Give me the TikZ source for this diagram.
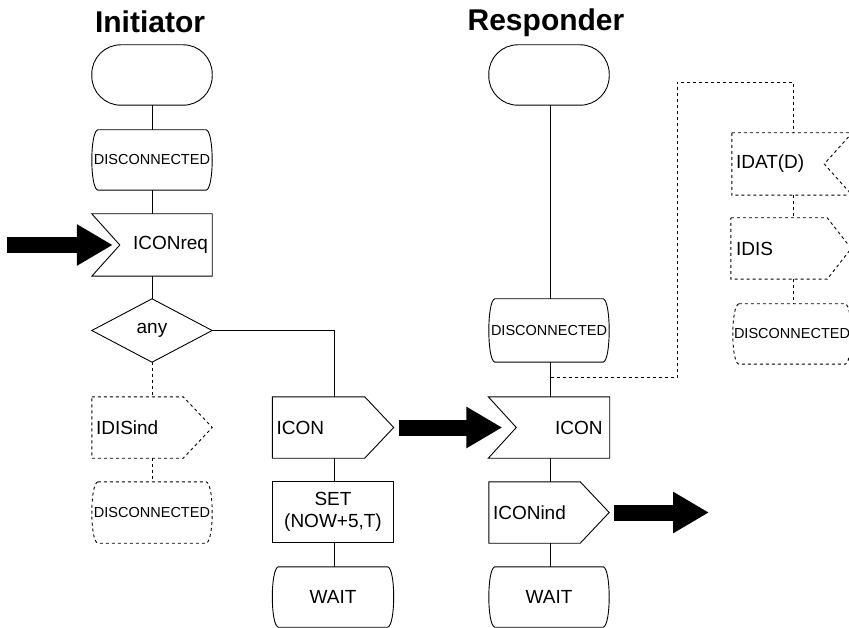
\documentclass[tikz,border=0pt]{standalone}
\usepackage{fontspec}
\setmainfont{Liberation Sans}
\usetikzlibrary{calc,arrows.meta}
\newcommand\drawstate[2]{\draw[#2] ($(#1.north west)+(6,0)$) -- ($(#1.north east)+(-6,0)$) .. controls ($(#1.north east)+(2,2)$) and ($(#1.south east)+(2,-2)$) .. ($(#1.south east)+(-6,0)$) -- ($(#1.south west)+(6,0)$) .. controls ($(#1.south west)+(-2,-2)$) and ($(#1.north west)+(-2,2)$) .. cycle;}
\newcommand\drawoutput[3]{\draw[#2] (#1.north west) -- ($(#1.north east)+(-#3,0)$) -- (#1.east) -- ($(#1.south east)+(-#3,0)$) -- (#1.south west) -- cycle;}
\newcommand\drawinputl[2]{\draw[#2] (#1.north west) -- (#1.north east) -- (#1.south east) -- (#1.south west) -- ($(#1.west)+(28,0)$) -- cycle;}
\newcommand\drawinputr[2]{\draw[#2] (#1.north west) -- (#1.north east) -- ($(#1.east)+(-28,0)$) -- (#1.south east) -- (#1.south west) -- cycle;}
\newcommand\drawdiam[2]{\draw[#2] (#1.north) -- (#1.east) -- (#1.south) -- (#1.west) -- cycle;}
\newcommand\drawterm[2]{\draw[#2, rounded corners=29pt] (#1.north west) rectangle (#1.south east);}
\begin{document}
\begin{tikzpicture}[x=1pt,y=-1pt,
  box/.style={minimum width=120pt, minimum height=61pt, inner sep=0pt, font=\fontsize{19}{22}\selectfont, align=center},
  smalltxt/.style={font=\fontsize{14.5}{16}\selectfont},
  lefttxt/.style={text width=112pt, inner xsep=4pt, align=left},
  righttxt/.style={text width=112pt, inner xsep=4pt, align=right},
  title/.style={font=\fontsize{30}{34}\selectfont\bfseries, anchor=base},
  ln/.style={line width=0.9pt},
  dsh/.style={line width=0.9pt, dash pattern=on 3pt off 3pt},
  bigarrow/.style={line width=16pt, -{Triangle[length=36pt 0, width=39pt 0]}}]
\useasboundingbox (0,0) rectangle (849,628);

% titles
\node[title] (tinit) at (150,33) {Initiator};
\node[title] (tresp) at (546,31) {Responder};

% Initiator column
\node[box, minimum height=60pt] (start1) at (152,75) {};
\node[box, smalltxt, minimum height=60pt] (dis1) at (152,160) {DISCONNECTED};
\node[box, righttxt, minimum height=62pt] (icreq) at (152,245) {ICONreq};
\node[box, minimum height=63pt] (any) at (152,330.5) {any};
\node[box, lefttxt] (idisind) at (152,427.5) {IDISind};
\node[box, smalltxt] (dis2) at (152,512.5) {DISCONNECTED};

% second column
\node[box, lefttxt, text width=113pt] (icon) at (333,427.5) {ICON};
\node[box, minimum width=121pt, minimum height=60pt] (set) at (333,512) {SET\\(NOW+5,T)};
\node[box, minimum width=121pt, minimum height=60pt] (wait1) at (333,597) {WAIT};

% Responder column
\node[box, minimum height=60pt] (start2) at (549,75) {};
\node[box, smalltxt, minimum height=63pt] (dis3) at (549,330.5) {DISCONNECTED};
\node[box, righttxt, inner xsep=7pt, text width=107pt] (iconin) at (549,427.5) {ICON};
\node[box, lefttxt, minimum height=61pt] (iconind) at (549,512.5) {ICONind};
\node[box, minimum height=60pt] (wait2) at (549,597) {WAIT};

% right dashed column
\node[box, lefttxt, minimum height=62pt] (idat) at (792,164) {IDAT(D)};
\node[box, lefttxt, text width=110pt] (idis) at (791,248.5) {IDIS};
\node[box, smalltxt, minimum width=118pt, minimum height=60pt] (dis4) at (792,334) {DISCONNECTED};

% shapes
\drawterm{start1}{ln}
\drawstate{dis1}{ln}
\drawinputl{icreq}{ln}
\drawdiam{any}{ln}
\drawoutput{idisind}{dsh}{29}
\drawstate{dis2}{dsh}
\drawoutput{icon}{ln}{29}
\draw[ln] (set.north west) rectangle (set.south east);
\drawstate{wait1}{ln}
\drawterm{start2}{ln}
\drawstate{dis3}{ln}
\drawinputl{iconin}{ln}
\drawoutput{iconind}{ln}{29}
\drawstate{wait2}{ln}
\drawinputr{idat}{dsh}
\drawoutput{idis}{dsh}{24}
\drawstate{dis4}{dsh}

% connectors
\draw[ln] (start1.south) -- (dis1.north);
\draw[ln] (dis1.south) -- (icreq.north);
\draw[ln] (icreq.south) -- (any.north);
\draw[ln] (any.east) -| ([xshift=1pt]icon.north);
\draw[dsh] (any.south) -- (idisind.north);
\draw[dsh] (idisind.south) -- (dis2.north);
\draw[ln] ([xshift=1pt]icon.south) -- ([xshift=1pt]set.north);
\draw[ln] ([xshift=1pt]set.south) -- ([xshift=1pt]wait1.north);
\draw[ln] ([xshift=1.5pt]start2.south) -- ([xshift=1.5pt]dis3.north);
\draw[ln] ([xshift=1.5pt]dis3.south) -- ([xshift=1.5pt]iconin.north);
\draw[ln] ([xshift=1.5pt]iconin.south) -- ([xshift=1.5pt]iconind.north);
\draw[ln] ([xshift=1.5pt]iconind.south) -- ([xshift=1.5pt]wait2.north);
\coordinate (j) at ($([xshift=1.5pt]dis3.south)!0.43!([xshift=1.5pt]iconin.north)$);
\coordinate (lp) at (677,82);
\draw[dsh] (j) -| (lp) -| ([xshift=1pt]idat.north);
\draw[dsh] ([xshift=1pt]idat.south) -- ([xshift=2pt]idis.north);
\draw[dsh] ([xshift=2pt]idis.south) -- ([xshift=1pt]dis4.north);

% big arrows
\coordinate (a0) at (7,245);
\coordinate (a1) at (709,512.5);
\draw[bigarrow] (a0) -- ($(icreq.west)+(21,0)$);
\draw[bigarrow] ($(icon.east)+(5,0)$) -- ($(iconin.west)+(14,0)$);
\draw[bigarrow] ($(iconind.east)+(5,0)$) -- (a1);
\end{tikzpicture}
\end{document}
